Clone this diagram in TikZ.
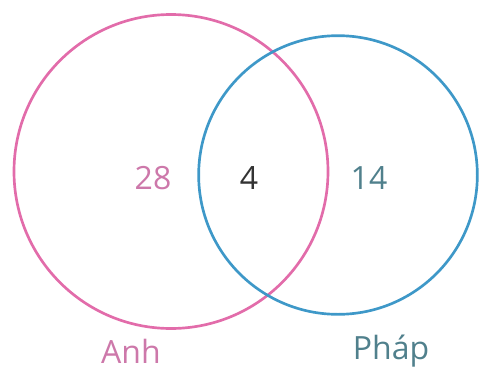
\documentclass[tikz,border=0pt]{standalone}
\usepackage{fontspec}
\setmainfont{Open Sans}
\usepackage{xcolor}
\usetikzlibrary{positioning}
\definecolor{anhpink}{RGB}{226,108,170}
\definecolor{phapblue}{RGB}{62,152,200}
\definecolor{anhtext}{RGB}{205,120,170}
\definecolor{phaptext}{RGB}{80,128,140}
\tikzset{
  set/.style={draw,circle,line width=2pt,inner sep=0pt},
  num/.style={font=\fontsize{24}{28}\selectfont},
  lab/.style={font=\fontsize{24}{28}\selectfont},
}
\begin{document}
\begin{tikzpicture}[x=0.75pt,y=-0.75pt]
\useasboundingbox (0,0) rectangle (479,383);
\node[set,anhpink,minimum size=235.5pt] (anh) at (171,171.5) {};
\node[set,phapblue,minimum size=209pt] (phap) at (338,175) {};
\node[num,anhtext] (n28) at (153,178) {28};
\node[num,black!80] (n4) at (249,178) {4};
\node[num,phaptext] (n14) at (369,178) {14};
\node[lab,anhtext] (lanh) at (131,351) {Anh};
\node[lab,phaptext] (lphap) at (391,351) {Pháp};
\end{tikzpicture}
\end{document}
